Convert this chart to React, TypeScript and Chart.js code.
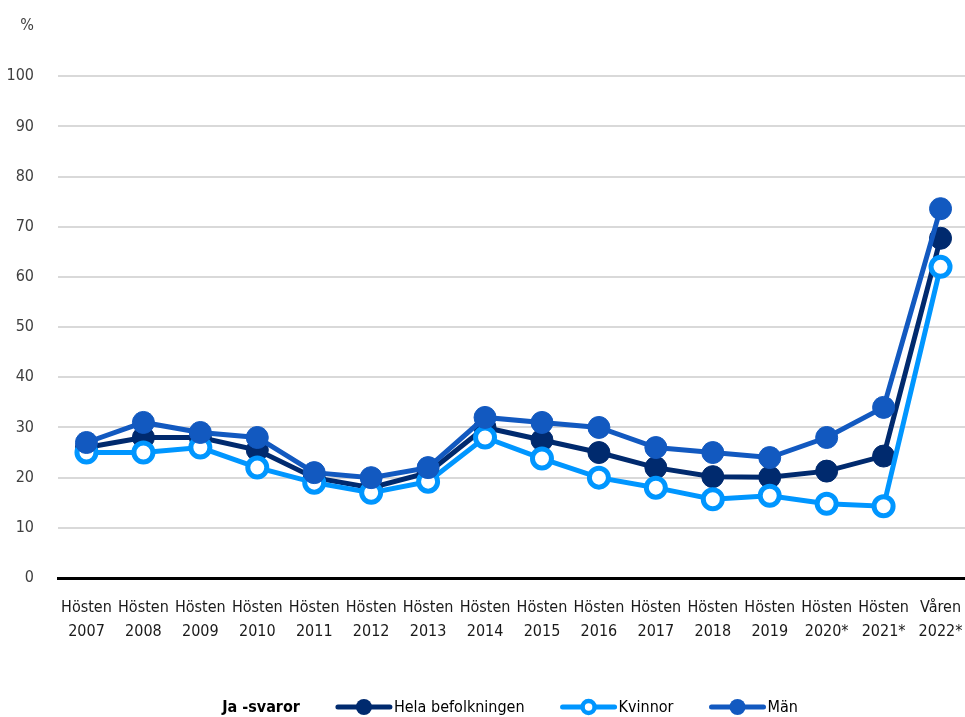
import React, { useEffect, useRef } from "react";
import { Chart, registerables } from "chart.js";

Chart.register(...registerables);

const categories: string[][] = [
  ["Hösten", "2007"], ["Hösten", "2008"], ["Hösten", "2009"], ["Hösten", "2010"],
  ["Hösten", "2011"], ["Hösten", "2012"], ["Hösten", "2013"], ["Hösten", "2014"],
  ["Hösten", "2015"], ["Hösten", "2016"], ["Hösten", "2017"], ["Hösten", "2018"],
  ["Hösten", "2019"], ["Hösten", "2020*"], ["Hösten", "2021*"], ["Våren", "2022*"],
];

const helaBefolkningen = [26, 28, 28, 25.5, 20, 18, 21, 30, 27.5, 25, 22, 20.2, 20.1, 21.3, 24.3, 67.7];
const kvinnor = [25, 25, 26, 22, 19, 17, 19.2, 28, 23.8, 20, 18, 15.7, 16.4, 14.8, 14.3, 62];
const man = [27, 31, 29, 28, 21, 20, 22, 32, 31, 30, 26, 25, 24, 28, 34, 73.6];

const legendTitle = "Ja -svaror";
const seriesNames = ["Hela befolkningen", "Kvinnor", "Män"];

const yMax = 110;
const yStep = 10;
const yUnitLabel = "%";

const COL_HELA = "#002a6e";
const COL_KV = "#0096ff";
const COL_MAN = "#1259c0";
const FONT = "'DejaVu Sans Condensed', 'Liberation Sans Narrow', sans-serif";
const FS = 16;

const legendPlugin = {
  id: "customLegend",
  afterDraw(chart: any) {
    const ctx = chart.ctx as CanvasRenderingContext2D;
    const y = 708;
    ctx.save();
    ctx.textBaseline = "middle";
    ctx.textAlign = "left";
    const items = [
      { name: seriesNames[0], color: COL_HELA, hollow: false },
      { name: seriesNames[1], color: COL_KV, hollow: true },
      { name: seriesNames[2], color: COL_MAN, hollow: false },
    ];
    ctx.font = `bold ${FS}px ${FONT}`;
    const titleW = ctx.measureText(legendTitle).width;
    ctx.font = `${FS}px ${FONT}`;
    const markerW = 56;
    const gap = 36;
    let total = titleW + gap;
    items.forEach((it, i) => {
      total += markerW + 2 + ctx.measureText(it.name).width + (i < items.length - 1 ? gap : 0);
    });
    let x = 510 - total / 2;
    ctx.fillStyle = "#000";
    ctx.font = `bold ${FS}px ${FONT}`;
    ctx.fillText(legendTitle, x, y);
    x += titleW + gap;
    ctx.font = `${FS}px ${FONT}`;
    items.forEach((it) => {
      ctx.strokeStyle = it.color;
      ctx.lineWidth = 5;
      ctx.lineCap = "round";
      ctx.beginPath();
      ctx.moveTo(x + 2, y - 1);
      ctx.lineTo(x + markerW - 2, y - 1);
      ctx.stroke();
      ctx.beginPath();
      ctx.arc(x + markerW / 2, y - 1, it.hollow ? 6 : 8, 0, Math.PI * 2);
      if (it.hollow) {
        ctx.fillStyle = "#fff";
        ctx.fill();
        ctx.lineWidth = 4.5;
        ctx.stroke();
      } else {
        ctx.fillStyle = it.color;
        ctx.fill();
      }
      x += markerW + 2;
      ctx.fillStyle = "#000";
      ctx.fillText(it.name, x, y);
      x += ctx.measureText(it.name).width + gap;
    });
    ctx.restore();
  },
};

export default function App() {
  const ref = useRef<HTMLCanvasElement>(null);
  useEffect(() => {
    if (!ref.current) return;
    const chart = new Chart(ref.current, {
      type: "line",
      data: {
        labels: categories,
        datasets: [
          {
            label: seriesNames[0],
            data: helaBefolkningen,
            borderColor: COL_HELA,
            backgroundColor: COL_HELA,
            borderWidth: 5,
            pointRadius: 11,
            pointBorderWidth: 1,
            pointBackgroundColor: COL_HELA,
            pointBorderColor: COL_HELA,
            clip: false,
            order: 3,
          },
          {
            label: seriesNames[1],
            data: kvinnor,
            borderColor: COL_KV,
            backgroundColor: "#fff",
            borderWidth: 5,
            pointRadius: 9.5,
            pointBorderWidth: 5,
            pointBackgroundColor: "#fff",
            pointBorderColor: COL_KV,
            clip: false,
            order: 2,
          },
          {
            label: seriesNames[2],
            data: man,
            borderColor: COL_MAN,
            backgroundColor: COL_MAN,
            borderWidth: 5,
            pointRadius: 11,
            pointBorderWidth: 1,
            pointBackgroundColor: COL_MAN,
            pointBorderColor: COL_MAN,
            clip: false,
            order: 1,
          },
        ],
      },
      options: {
        animation: false,
        responsive: false,
        devicePixelRatio: 1,
        layout: { autoPadding: false, padding: { top: 26, left: 0, right: 0, bottom: 0 } },
        plugins: {
          legend: { display: false },
          tooltip: { enabled: false },
        },
        scales: {
          x: {
            offset: true,
            grid: { display: false, drawTicks: false },
            border: { display: true, color: "#000", width: 3 },
            ticks: {
              autoSkip: false,
              maxRotation: 0,
              minRotation: 0,
              padding: 17,
              color: "#1a1a1a",
              font: { family: FONT, size: FS, lineHeight: 1.55 },
            },
            afterFit(scale: any) {
              scale.height = 152;
              scale.paddingLeft = 0;
              scale.paddingRight = 0;
            },
          },
          y: {
            min: 0,
            max: yMax,
            border: { display: false },
            grid: {
              drawTicks: false,
              lineWidth: 2,
              color: (c: any) =>
                c.tick && (c.tick.value === 0 || c.tick.value === yMax) ? "rgba(0,0,0,0)" : "#d9d9d9",
            },
            ticks: {
              stepSize: yStep,
              padding: 24,
              color: "#404040",
              font: { family: FONT, size: FS },
              callback: (v: any) => (v === yMax ? yUnitLabel : String(v)),
            },
            afterFit(scale: any) {
              scale.width = 58;
              scale.paddingTop = 0;
              scale.paddingBottom = 0;
            },
          },
        },
      },
      plugins: [legendPlugin],
    });
    return () => chart.destroy();
  }, []);
  return (
    <div style={{ position: "fixed", left: 0, top: 0, width: 965, height: 717, overflow: "hidden", background: "#fff" }}>
      <canvas ref={ref} width={969} height={730} style={{ width: 969, height: 730, display: "block" }} />
    </div>
  );
}
